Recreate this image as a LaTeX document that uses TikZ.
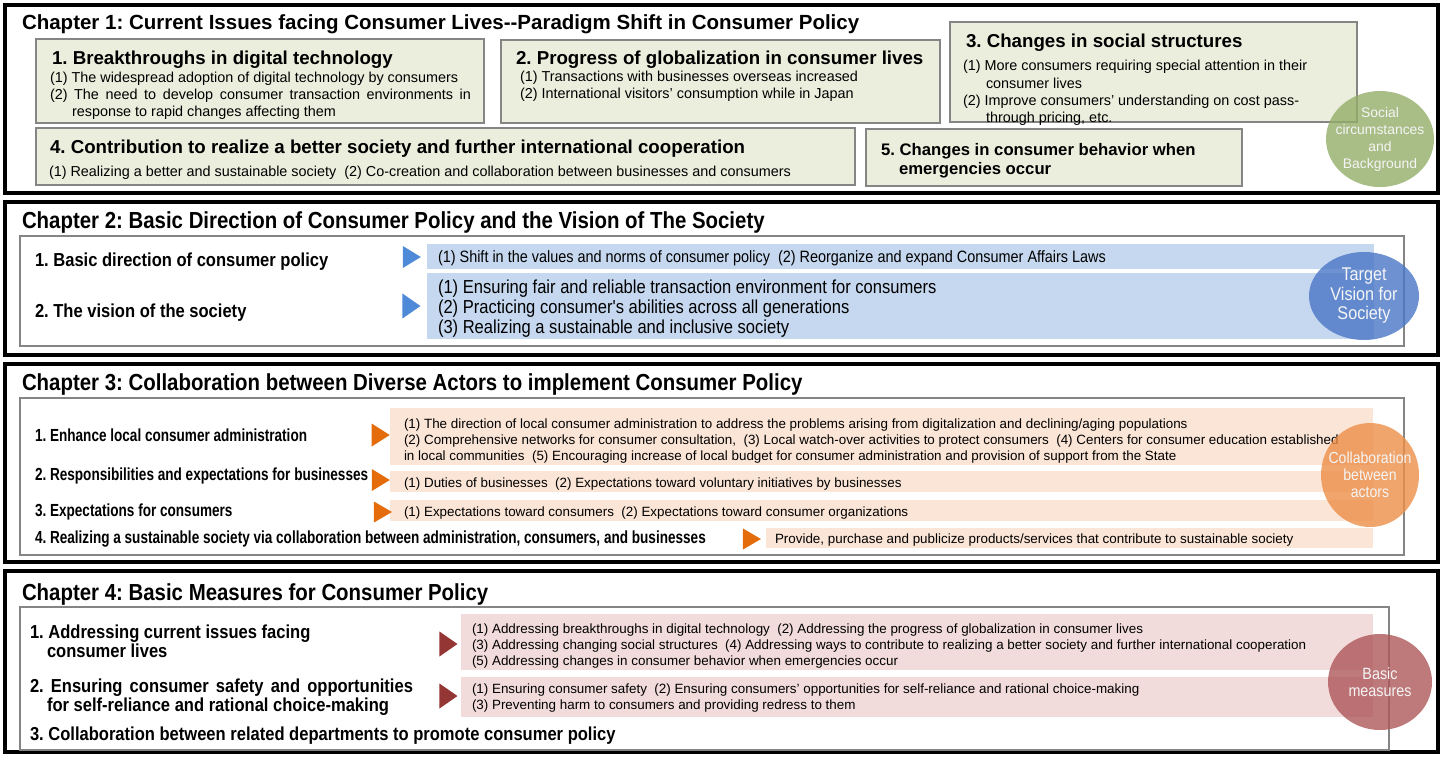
\documentclass[tikz,border=0pt]{standalone}
\usepackage{fontspec}
\setmainfont{Liberation Sans}
\newfontfamily\narrowfont[FakeStretch=0.88]{Liberation Sans}
\newfontfamily\condensedfont[FakeStretch=0.775]{Liberation Sans}
\usetikzlibrary{
  shapes.geometric,
  positioning
}
\definecolor{issuebg}{HTML}{EBEEDD}
\definecolor{boxgray}{HTML}{858585}
\definecolor{socialgreen}{HTML}{93AD68}
\definecolor{visionblue}{HTML}{C6D8EF}
\definecolor{visionarrow}{HTML}{4F8AD8}
\definecolor{visiondeep}{HTML}{4A76C6}
\definecolor{actorband}{HTML}{FBE5D6}
\definecolor{actorarrow}{HTML}{E46C0A}
\definecolor{actordeep}{HTML}{EC8E48}
\definecolor{measureband}{HTML}{F2DCDB}
\definecolor{measurearrow}{HTML}{943634}
\definecolor{measuredeep}{HTML}{AE5759}
\tikzset{
  chapbox/.style={draw=black, line width=3.6pt},
  panel/.style={draw=boxgray, line width=1.3pt},
  issuebox/.style={draw=boxgray, fill=issuebg, line width=1.4pt},
  txt/.style={anchor=base west, inner sep=0pt, outer sep=0pt},
  chaptitle/.style={txt, font=\fontsize{20.5}{23}\selectfont\bfseries},
  narrowtitle/.style={txt, font=\narrowfont\fontsize{23.2}{26}\selectfont\bfseries},
  issuetitle/.style={txt, font=\fontsize{18.7}{21}\selectfont\bfseries},
  issueline/.style={txt, font=\fontsize{14.4}{17}\selectfont},
  label/.style={txt, font=\condensedfont\fontsize{17.5}{20}\selectfont\bfseries},
  biglabel/.style={txt, font=\narrowfont\fontsize{18.8}{21}\selectfont\bfseries},
  bandline/.style={txt, font=\fontsize{13.4}{16}\selectfont},
  pointer/.style={isosceles triangle, isosceles triangle stretches,
    inner sep=0pt, minimum height=18pt, minimum width=#1},
  badge/.style={ellipse, inner sep=0pt, fill opacity=0.8},
  badgetext/.style={align=center, text=white!92!gray, inner sep=0pt}
}

\begin{document}
\frenchspacing
\begin{tikzpicture}[x=1pt,y=-1pt]
\useasboundingbox (0,0) rectangle (1443,756);
% Chapter 1
\draw[chapbox] (5,5) rectangle (1438,193);
\node[chaptitle] (ch1) at (22,29) {Chapter 1: Current Issues facing Consumer Lives-{}-Paradigm Shift in Consumer Policy};
\draw[issuebox] (36,39) rectangle (484,123);
\node[issuetitle] (dig) at (52,64) {1. Breakthroughs in digital technology};
\node[issueline] (dig1) at (50,82) {(1) The widespread adoption of digital technology by consumers};
\node[issueline] (dig2) at (50,99) {\makebox[421pt][s]{(2) The need to develop consumer transaction environments in}};
\node[issueline] (dig3) at (72,116) {response to rapid changes affecting them};
\draw[issuebox] (501,40) rectangle (940,123);
\node[issuetitle] (glob) at (516,64) {2. Progress of globalization in consumer lives};
\node[issueline] (glob1) at (520,81) {(1) Transactions with businesses overseas increased};
\node[issueline] (glob2) at (520,98) {(2) International visitors’ consumption while in Japan};
\draw[issuebox] (950,22) rectangle (1357,122);
\node[issuetitle] (soc) at (966,47) {3. Changes in social structures};
\node[issueline] (soc1) at (963,70) {(1) More consumers requiring special attention in their};
\node[issueline] (soc2) at (986,88) {consumer lives};
\node[issueline] (soc3) at (963,105) {(2) Improve consumers’ understanding on cost pass-};
\node[issueline] (soc4) at (986,122) {through pricing, etc.};
\draw[issuebox] (36,128) rectangle (855,185);
\node[issuetitle] (coop) at (50,153) {4. Contribution to realize a better society and further international cooperation};
\node[issueline] (coop1) at (49,176) {(1) Realizing a better and sustainable society\ \ (2) Co-creation and collaboration between businesses and consumers};
\draw[issuebox] (866,129) rectangle (1242,186);
\node[issuetitle, font=\fontsize{16.7}{19}\selectfont\bfseries] (emer) at (881,155) {5. Changes in consumer behavior when};
\node[issuetitle, font=\fontsize{16.7}{19}\selectfont\bfseries] (emer2) at (899,174) {emergencies occur};
\node[badge, fill=socialgreen, minimum width=108pt, minimum height=96pt] (social) at (1380,139) {};
\node[badgetext, font=\fontsize{13.9}{17}\selectfont] (socialtext) at (social.center) {Social\\circumstances\\and\\Background};
% Chapter 2
\draw[chapbox] (5,202) rectangle (1438,355);
\node[narrowtitle] (ch2) at (22,228) {Chapter 2: Basic Direction of Consumer Policy and the Vision of The Society};
\draw[panel] (20,236) rectangle (1404,346);
\fill[visionblue] (427,244) rectangle (1374,269);
\fill[visionblue] (427,273) rectangle (1374,339);
\node[biglabel] (dir) at (35,266) {1. Basic direction of consumer policy};
\node[biglabel] (vis) at (35,317) {2. The vision of the society};
\node[pointer=22pt, fill=visionarrow] (dirarr) at (409,257) {};
\node[pointer=25pt, fill=visionarrow] (visarr) at (409,306) {};
\node[bandline, font=\narrowfont\fontsize{16.4}{19}\selectfont] (dir1) at (438,262) {(1) Shift in the values and norms of consumer policy\ \ (2) Reorganize and expand Consumer Affairs Laws};
\node[bandline, font=\narrowfont\fontsize{18.8}{21}\selectfont] (vis1) at (438,293) {(1) Ensuring fair and reliable transaction environment for consumers};
\node[bandline, font=\narrowfont\fontsize{18.8}{21}\selectfont] (vis2) at (438,313) {(2) Practicing consumer's abilities across all generations};
\node[bandline, font=\narrowfont\fontsize{18.8}{21}\selectfont] (vis3) at (438,333) {(3) Realizing a sustainable and inclusive society};
\node[badge, fill=visiondeep, minimum width=110pt, minimum height=88pt] (target) at (1364,296) {};
\node[badgetext, font=\narrowfont\fontsize{18.4}{19.5}\selectfont] (targettext) at (target.center) {Target\\Vision for\\Society};
% Chapter 3
\draw[chapbox] (5,364) rectangle (1438,562);
\node[narrowtitle] (ch3) at (22,390) {Chapter 3: Collaboration between Diverse Actors to implement Consumer Policy};
\draw[panel] (20,398) rectangle (1404,555);
\fill[actorband] (390,408) rectangle (1373,465);
\fill[actorband] (390,471) rectangle (1373,492);
\fill[actorband] (390,500) rectangle (1373,521);
\fill[actorband] (766,528) rectangle (1373,548);
\node[label] (loc) at (35,441) {1. Enhance local consumer administration};
\node[label] (bus) at (35,480) {2. Responsibilities and expectations for businesses};
\node[label] (con) at (35,516) {3. Expectations for consumers};
\node[label] (sus) at (35,543) {4. Realizing a sustainable society via collaboration between administration, consumers, and businesses};
\node[pointer=23pt, fill=actorarrow] (locarr) at (378,435) {};
\node[pointer=22pt, fill=actorarrow] (busarr) at (378,480) {};
\node[pointer=21pt, fill=actorarrow] (conarr) at (380,512) {};
\node[pointer=21pt, fill=actorarrow] (susarr) at (749,539) {};
\node[bandline] (loc1) at (404,428) {(1) The direction of local consumer administration to address the problems arising from digitalization and declining/aging populations};
\node[bandline] (loc2) at (404,444) {(2) Comprehensive networks for consumer consultation,\ \ (3) Local watch-over activities to protect consumers\ \ (4) Centers for consumer education established};
\node[bandline] (loc3) at (404,460) {in local communities\ \ (5) Encouraging increase of local budget for consumer administration and provision of support from the State};
\node[bandline] (bus1) at (404,487) {(1) Duties of businesses\ \ (2) Expectations toward voluntary initiatives by businesses};
\node[bandline] (con1) at (404,516) {(1) Expectations toward consumers\ \ (2) Expectations toward consumer organizations};
\node[bandline] (sus1) at (775,543) {Provide, purchase and publicize products/services that contribute to sustainable society};
\node[badge, fill=actordeep, minimum width=98pt, minimum height=104pt] (actors) at (1370,475) {};
\node[badgetext, font=\narrowfont\fontsize{16}{17}\selectfont] (actorstext) at (actors.center) {Collaboration\\between\\actors};
% Chapter 4
\draw[chapbox] (5,571) rectangle (1438,752);
\node[narrowtitle] (ch4) at (22,600) {Chapter 4: Basic Measures for Consumer Policy};
\draw[panel] (20,607) rectangle (1389,750);
\fill[measureband] (461,614) rectangle (1373,670);
\fill[measureband] (461,677) rectangle (1373,717);
\node[biglabel] (iss) at (30,638) {1. Addressing current issues facing};
\node[biglabel] (iss2) at (47,657) {consumer lives};
\node[biglabel] (saf) at (30,692) {\makebox[383pt][s]{2. Ensuring consumer safety and opportunities}};
\node[biglabel] (saf2) at (47,711) {for self-reliance and rational choice-making};
\node[biglabel] (dept) at (30,740) {3. Collaboration between related departments to promote consumer policy};
\node[pointer=25pt, fill=measurearrow] (issarr) at (446,644) {};
\node[pointer=25pt, fill=measurearrow] (safarr) at (446,696) {};
\node[bandline] (iss3) at (472,633) {(1) Addressing breakthroughs in digital technology\ \ (2) Addressing the progress of globalization in consumer lives};
\node[bandline] (iss4) at (472,649) {(3) Addressing changing social structures\ \ (4) Addressing ways to contribute to realizing a better society and further international cooperation};
\node[bandline] (iss5) at (472,665) {(5) Addressing changes in consumer behavior when emergencies occur};
\node[bandline] (saf3) at (472,693) {(1) Ensuring consumer safety\ \ (2) Ensuring consumers’ opportunities for self-reliance and rational choice-making};
\node[bandline] (saf4) at (472,709) {(3) Preventing harm to consumers and providing redress to them};
\node[badge, fill=measuredeep, minimum width=104pt, minimum height=96pt] (basic) at (1380,682) {};
\node[badgetext, font=\narrowfont\fontsize{16.3}{17}\selectfont] (basictext) at (basic.center) {Basic\\measures};
\end{tikzpicture}
\end{document}
